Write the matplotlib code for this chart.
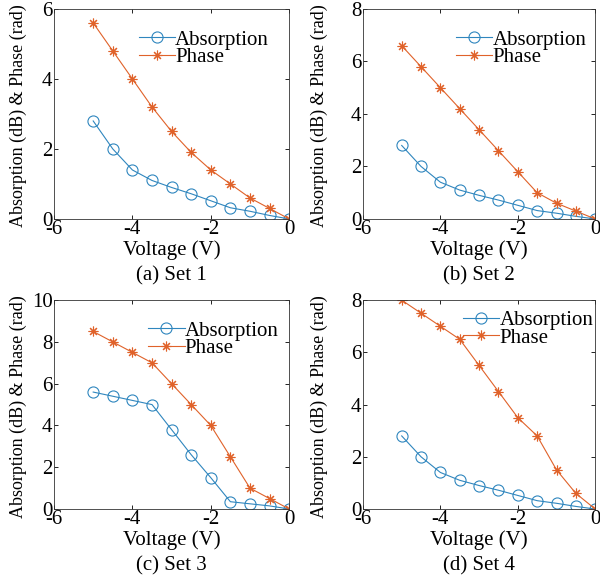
import matplotlib
matplotlib.use("Agg")
import matplotlib.pyplot as plt

plt.rcParams['font.family'] = ['Liberation Serif', 'DejaVu Serif']
plt.rcParams['axes.unicode_minus'] = False

voltage = [-5, -4.5, -4, -3.5, -3, -2.5, -2, -1.5, -1, -0.5, 0]

abs_set1 = [2.8, 2.0, 1.4, 1.1, 0.9, 0.72, 0.52, 0.32, 0.22, 0.1, 0.0]
phase_set1 = [5.6, 4.8, 4.0, 3.2, 2.5, 1.9, 1.4, 1.0, 0.6, 0.3, 0.0]

abs_set2 = [2.8, 2.0, 1.4, 1.1, 0.9, 0.72, 0.52, 0.32, 0.22, 0.1, 0.0]
phase_set2 = [6.6, 5.8, 5.0, 4.2, 3.4, 2.6, 1.8, 1.0, 0.6, 0.3, 0.0]

abs_set3 = [5.6, 5.4, 5.2, 5.0, 3.8, 2.6, 1.5, 0.35, 0.25, 0.15, 0.0]
phase_set3 = [8.5, 8.0, 7.5, 7.0, 6.0, 5.0, 4.0, 2.5, 1.0, 0.5, 0.0]

abs_set4 = [2.8, 2.0, 1.4, 1.1, 0.9, 0.72, 0.52, 0.32, 0.22, 0.1, 0.0]
phase_set4 = [8.0, 7.5, 7.0, 6.5, 5.5, 4.5, 3.5, 2.8, 1.5, 0.6, 0.0]

captions = ["(a) Set 1", "(b) Set 2", "(c) Set 3", "(d) Set 4"]
ylims = [6, 8, 10, 8]
xticks = [-6, -4, -2, 0]

blue = '#2F86BE'
orange = '#E0622A'

fig = plt.figure(figsize=(6.0, 5.77), dpi=100)
positions = [
    [0.090, 0.6205, 0.392, 0.364],
    [0.605, 0.6205, 0.387, 0.364],
    [0.090, 0.1178, 0.392, 0.362],
    [0.605, 0.1178, 0.387, 0.362],
]
legend_anchor = [(0.36, 0.90), (0.40, 0.90), (0.40, 0.90), (0.43, 0.95)]
ylabel_x = [-0.15, -0.19, -0.15, -0.19]

data = [(abs_set1, phase_set1), (abs_set2, phase_set2),
        (abs_set3, phase_set3), (abs_set4, phase_set4)]

asterisk = (8, 2, 0)
fs = 15

for i, (pos, (ab, ph)) in enumerate(zip(positions, data)):
    ax = fig.add_axes(pos)
    ax.plot(voltage, ab, '-', color=blue, lw=0.8, marker='o', ms=8,
            mfc='none', mec=blue, mew=0.8, label='Absorption')
    ax.plot(voltage, ph, '-', color=orange, lw=0.8, marker=asterisk, ms=7,
            mec=orange, mew=0.8, label='Phase')
    ax.set_xlim(-6, 0)
    ax.set_ylim(0, ylims[i])
    ax.set_xticks(xticks)
    ax.set_yticks(range(0, ylims[i] + 1, 2))
    ax.tick_params(direction='in', top=True, right=True, labelsize=fs,
                   length=3, width=0.6, pad=1)
    for s in ax.spines.values():
        s.set_linewidth(0.6)
        s.set_color('#333333')
    ax.text(0.5, -0.148, 'Voltage (V)', transform=ax.transAxes, ha='center',
            va='center', fontsize=fs)
    ax.text(ylabel_x[i], 0.49, 'Absorption (dB) & Phase (rad)', transform=ax.transAxes,
            ha='center', va='center', rotation=90, fontsize=13)
    ax.text(0.5, -0.27, captions[i], transform=ax.transAxes, ha='center',
            va='center', fontsize=fs)
    ax.legend(loc='upper left', bbox_to_anchor=legend_anchor[i], frameon=False,
              fontsize=fs, borderpad=0, handlelength=1.75, handletextpad=0.0,
              labelspacing=-0.1, borderaxespad=0)

fig.savefig('out.png', dpi=100)
